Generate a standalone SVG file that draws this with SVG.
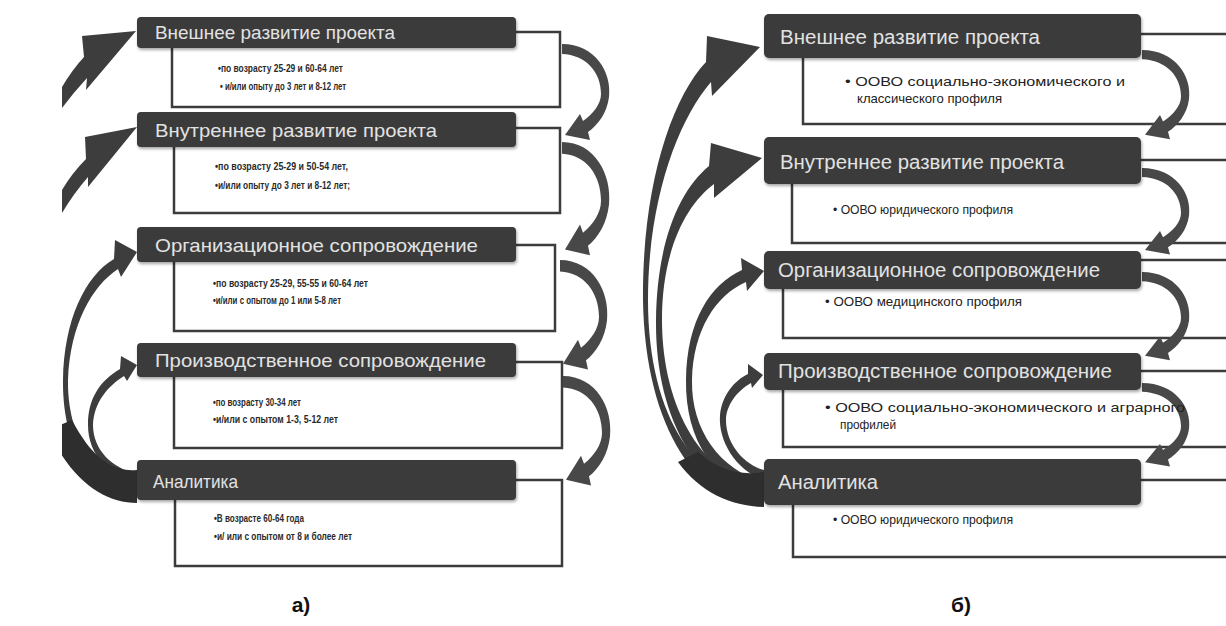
<svg xmlns="http://www.w3.org/2000/svg" width="1226" height="626" viewBox="0 0 1226 626">
<defs>
<style>
.hdr{fill:#3a3a3a;}
.ht{font-family:"Liberation Sans",Arial,sans-serif;fill:#e2e2e2;}
.hl{font-size:19px;}
.hr{font-size:20px;}
.bt{font-family:"Liberation Sans",Arial,sans-serif;font-size:11px;font-weight:bold;fill:#2a2a2a;}
.rt{font-family:"Liberation Sans",Arial,sans-serif;font-size:13px;fill:#222;}
.br{fill:none;stroke:#3c3c3c;stroke-width:2.5;}
.ar{fill:#3d3d3d;}
.ra{fill:#484848;}
.lbl{font-family:"Liberation Sans",Arial,sans-serif;font-size:21px;font-weight:bold;fill:#111;text-anchor:middle;}
</style>
<filter id="sh" x="-5%" y="-20%" width="110%" height="150%">
<feDropShadow dx="1" dy="2" stdDeviation="1.5" flood-color="#000" flood-opacity="0.35"/>
</filter>
<clipPath id="clipL"><rect x="62" y="0" width="300" height="626"/></clipPath>
<path id="rarr" d="M 0,0 C 33,0 50,28 47,53 C 45,69 36,81 26,88 L 28,96 L 3,91 L 18,70 L 21,77 C 31,70 39,60 39,50 C 39,28 24,11 0,10 Z"/>
</defs>
<rect width="1226" height="626" fill="#ffffff"/>

<!-- ===== Panel a ===== -->
<g id="conn-a">
<path class="br" d="M516,32 H560 V107 H172 V48"/>
<path class="br" d="M516,128 H560 V213 H174 V147"/>
<path class="br" d="M516,245 H555 V331 H174 V262"/>
<path class="br" d="M516,362 H562 V448 H174 V377"/>
<path class="br" d="M516,480 H562 V566 H175 V500"/>
<use href="#rarr" class="ra" transform="translate(562,44)"/>
<use href="#rarr" class="ra" transform="translate(562,142) scale(1,1.18)"/>
<use href="#rarr" class="ra" transform="translate(560,260) scale(1,1.14)"/>
<use href="#rarr" class="ra" transform="translate(563,376) scale(1,1.14)"/>
<g clip-path="url(#clipL)" class="ar">
<path d="M 30,150 L 62,87 Q 72,70 84,57 L 82,36 L 136,31 L 86,90 L 87,78 Q 74,92 62,108 L 40,160 Z"/>
<path d="M 30,250 L 62,190 Q 72,173 86,159 L 85,137 L 137,127 L 88,187 L 88,177 Q 74,193 62,213 L 40,260 Z"/>
<path d="M 137,500 C 95,500 62,450 63,380 C 64,320 85,276 114,259 L 115,240 L 137,252 L 121,277 L 118,269 C 92,286 70,325 68,380 C 67,440 100,488 137,490 Z"/>
<path d="M 137,482 C 110,478 88,455 88,425 C 88,398 100,381 120,369 L 121,356 L 137,365 L 127,381 L 124,376 C 108,386 94,402 93,425 C 93,450 112,468 137,474 Z"/>
<path d="M 137,503 C 105,503 72,482 48,430 L 72,420 C 92,458 112,472 137,470 Z" fill="#2e2e2e"/>
</g>
</g>

<g id="a-n1">
<rect class="hdr" x="137" y="17" width="379" height="31" rx="4" filter="url(#sh)"/>
<text class="ht hl" x="155" y="39" textLength="240" lengthAdjust="spacingAndGlyphs">Внешнее развитие проекта</text>
<text class="bt" x="218" y="72" textLength="125" lengthAdjust="spacingAndGlyphs">•по возрасту 25-29 и 60-64 лет</text>
<text class="bt" x="220" y="90" textLength="126" lengthAdjust="spacingAndGlyphs">• и/или опыту до 3 лет и 8-12 лет</text>
</g>
<g id="a-n2">
<rect class="hdr" x="137" y="112" width="379" height="35" rx="4" filter="url(#sh)"/>
<text class="ht hl" x="155" y="137" textLength="282" lengthAdjust="spacingAndGlyphs">Внутреннее развитие проекта</text>
<text class="bt" x="215" y="170" textLength="133" lengthAdjust="spacingAndGlyphs">•по возрасту 25-29 и 50-54 лет,</text>
<text class="bt" x="215" y="189" textLength="135" lengthAdjust="spacingAndGlyphs">•и/или опыту до 3 лет и 8-12 лет;</text>
</g>
<g id="a-n3">
<rect class="hdr" x="137" y="227" width="379" height="35" rx="4" filter="url(#sh)"/>
<text class="ht hl" x="155" y="252" textLength="323" lengthAdjust="spacingAndGlyphs">Организационное  сопровождение</text>
<text class="bt" x="213" y="287" textLength="155" lengthAdjust="spacingAndGlyphs">•по возрасту 25-29, 55-55 и 60-64 лет</text>
<text class="bt" x="213" y="304" textLength="128" lengthAdjust="spacingAndGlyphs">•и/или с опытом до 1 или 5-8 лет</text>
</g>
<g id="a-n4">
<rect class="hdr" x="137" y="343" width="379" height="34" rx="4" filter="url(#sh)"/>
<text class="ht hl" x="155" y="367" textLength="331" lengthAdjust="spacingAndGlyphs">Производственное сопровождение</text>
<text class="bt" x="213" y="406" textLength="88" lengthAdjust="spacingAndGlyphs">•по возрасту 30-34 лет</text>
<text class="bt" x="213" y="423" textLength="125" lengthAdjust="spacingAndGlyphs">•и/или с опытом 1-3, 5-12 лет</text>
</g>
<g id="a-n5">
<rect class="hdr" x="137" y="460" width="379" height="40" rx="4" filter="url(#sh)"/>
<text class="ht hl" x="153" y="488" textLength="85" lengthAdjust="spacingAndGlyphs">Аналитика</text>
<text class="bt" x="214" y="522" textLength="90" lengthAdjust="spacingAndGlyphs">•В возрасте 60-64 года</text>
<text class="bt" x="214" y="540" textLength="138" lengthAdjust="spacingAndGlyphs">•и/ или с опытом от 8 и более лет</text>
</g>
<text class="lbl" x="301" y="612">а)</text>

<!-- ===== Panel б ===== -->
<g id="conn-b">
<path class="br" d="M1141,34 H1226 M1226,124 H803 V58"/>
<path class="br" d="M1141,160 H1226 M1226,243 H792 V184"/>
<path class="br" d="M1141,260 H1226 M1226,338 H783 V289"/>
<path class="br" d="M1141,371 H1226 M1226,447 H783 V390"/>
<path class="br" d="M1141,480 H1226 M1226,557 H793 V504"/>
<use href="#rarr" class="ra" transform="translate(1142,50) scale(1,0.93)"/>
<use href="#rarr" class="ra" transform="translate(1142,168) scale(1,0.9)"/>
<use href="#rarr" class="ra" transform="translate(1142,272) scale(1,0.92)"/>
<use href="#rarr" class="ra" transform="translate(1142,383) scale(1,0.87)"/>
<g class="ar">
<path d="M 764,506 C 700,506 645,430 643,300 C 642,190 670,100 706,62 L 707,36 L 760,47 L 712,96 L 711,82 C 678,120 648,200 648,300 C 648,420 700,490 764,490 Z"/>
<path d="M 764,500 C 700,495 655,420 656,320 C 657,240 680,190 709,166 L 711,143 L 762,158 L 714,198 L 714,184 C 686,205 662,250 662,320 C 662,410 705,480 764,486 Z"/>
<path d="M 764,496 C 715,485 685,440 686,380 C 687,320 710,285 742,270 L 741,258 L 764,271 L 747,291 L 746,282 C 716,295 693,330 692,380 C 691,430 720,470 764,482 Z"/>
<path d="M 764,480 C 735,470 718,440 720,415 C 722,395 735,380 748,374 L 748,364 L 763,375 L 752,388 L 751,383 C 738,390 726,405 726,420 C 726,445 745,465 764,470 Z"/>
<path d="M 764,507 C 730,506 700,492 678,462 L 698,452 C 718,470 740,476 764,472 Z" fill="#2e2e2e"/>
</g>
</g>

<g id="b-n1">
<rect class="hdr" x="764" y="14" width="377" height="44" rx="5" filter="url(#sh)"/>
<text class="ht hr" x="780" y="44" textLength="260" lengthAdjust="spacingAndGlyphs">Внешнее развитие проекта</text>
<text class="rt" x="845" y="86" textLength="280" lengthAdjust="spacingAndGlyphs">• ООВО социально-экономического  и</text>
<text class="rt" x="857" y="103" textLength="145" lengthAdjust="spacingAndGlyphs">классического профиля</text>
</g>
<g id="b-n2">
<rect class="hdr" x="764" y="137" width="377" height="47" rx="5" filter="url(#sh)"/>
<text class="ht hr" x="780" y="169" textLength="284" lengthAdjust="spacingAndGlyphs">Внутреннее развитие проекта</text>
<text class="rt" x="833" y="214" textLength="180" lengthAdjust="spacingAndGlyphs">• ООВО юридического профиля</text>
</g>
<g id="b-n3">
<rect class="hdr" x="764" y="251" width="377" height="38" rx="5" filter="url(#sh)"/>
<text class="ht hr" x="778" y="277" textLength="322" lengthAdjust="spacingAndGlyphs">Организационное  сопровождение</text>
<text class="rt" x="825" y="306" textLength="197" lengthAdjust="spacingAndGlyphs">• ООВО медицинского профиля</text>
</g>
<g id="b-n4">
<rect class="hdr" x="764" y="353" width="377" height="37" rx="5" filter="url(#sh)"/>
<text class="ht hr" x="778" y="378" textLength="334" lengthAdjust="spacingAndGlyphs">Производственное сопровождение</text>
<text class="rt" x="825" y="412" textLength="360" lengthAdjust="spacingAndGlyphs">• ООВО социально-экономического  и аграрного</text>
<text class="rt" x="840" y="429" textLength="56" lengthAdjust="spacingAndGlyphs">профилей</text>
</g>
<g id="b-n5">
<rect class="hdr" x="764" y="459" width="377" height="46" rx="5" filter="url(#sh)"/>
<text class="ht hr" x="778" y="489" textLength="100" lengthAdjust="spacingAndGlyphs">Аналитика</text>
<text class="rt" x="833" y="524" textLength="180" lengthAdjust="spacingAndGlyphs">• ООВО юридического профиля</text>
</g>
<text class="lbl" x="961" y="612">б)</text>
</svg>
